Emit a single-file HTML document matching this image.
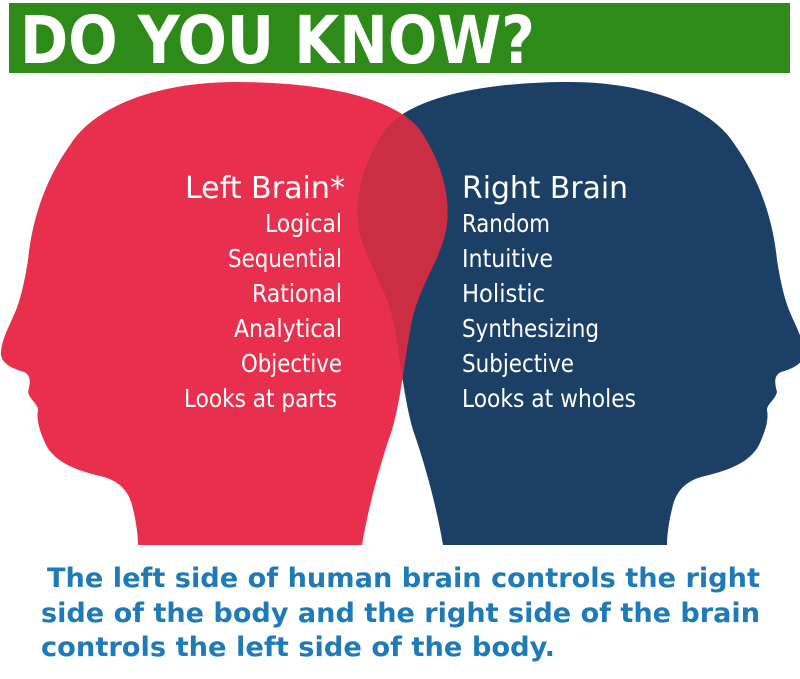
<!DOCTYPE html>
<html><head><meta charset="utf-8"><style>html,body{margin:0;padding:0;background:#fff}svg{display:block}</style></head>
<body>
<svg width="800" height="679" viewBox="0 0 800 679" xmlns="http://www.w3.org/2000/svg">
<defs>
<path id="rh" d="M236,82 C160,82 95,105 70,145 C45,180 32,220 28,260 C24,285 20,300 16,310 C10,325 2,338 1,352 C0,362 10,368 24,372 C32,376 30,384 28,392 C30,400 38,404 38,410 C36,420 40,432 46,445 C55,462 75,470 100,476 C118,480 128,490 132,505 C136,520 138,535 138,545 L362,545 C368,510 378,470 392,430 C402,395 404,360 412,320 C420,285 440,260 446,230 C452,195 440,160 420,130 C395,97 320,82 236,82 Z"/>
<clipPath id="rc"><use href="#rh"/></clipPath>
</defs>
<rect x="9" y="3" width="781" height="70" fill="#2e8b1a"/>
<text x="20" y="63" font-family="DejaVu Sans Condensed, DejaVu Sans, sans-serif" font-weight="bold" font-size="66" fill="#fff" textLength="515" lengthAdjust="spacingAndGlyphs">DO YOU KNOW?</text>
<g transform="translate(805,0) scale(-1,1)"><use href="#rh" fill="#1c3f66"/></g>
<use href="#rh" fill="#e8304e"/>
<g clip-path="url(#rc)"><g transform="translate(805,0) scale(-1,1)"><use href="#rh" fill="#cb2d45"/></g></g>
<g font-family="Liberation Sans Narrow, DejaVu Sans Condensed, Liberation Sans, sans-serif" fill="#fff">
<g text-anchor="end" font-size="25">
<text x="345" y="198" font-size="30" textLength="160" lengthAdjust="spacingAndGlyphs">Left Brain*</text>
<text x="342" y="232" textLength="77" lengthAdjust="spacingAndGlyphs">Logical</text>
<text x="342" y="267" textLength="114" lengthAdjust="spacingAndGlyphs">Sequential</text>
<text x="342" y="302" textLength="90" lengthAdjust="spacingAndGlyphs">Rational</text>
<text x="342" y="337" textLength="108" lengthAdjust="spacingAndGlyphs">Analytical</text>
<text x="342" y="372" textLength="101" lengthAdjust="spacingAndGlyphs">Objective</text>
<text x="337" y="407" textLength="153" lengthAdjust="spacingAndGlyphs">Looks at parts</text>
</g>
<g font-size="25">
<text x="462" y="198" font-size="30" textLength="166" lengthAdjust="spacingAndGlyphs">Right Brain</text>
<text x="462" y="232" textLength="88" lengthAdjust="spacingAndGlyphs">Random</text>
<text x="462" y="267" textLength="91" lengthAdjust="spacingAndGlyphs">Intuitive</text>
<text x="462" y="302" textLength="83" lengthAdjust="spacingAndGlyphs">Holistic</text>
<text x="462" y="337" textLength="137" lengthAdjust="spacingAndGlyphs">Synthesizing</text>
<text x="462" y="372" textLength="112" lengthAdjust="spacingAndGlyphs">Subjective</text>
<text x="462" y="407" textLength="174" lengthAdjust="spacingAndGlyphs">Looks at wholes</text>
</g>
</g>
<g font-family="DejaVu Sans Condensed, DejaVu Sans, sans-serif" font-weight="bold" font-size="27" fill="#1f7ab8">
<text x="47" y="587" textLength="713" lengthAdjust="spacingAndGlyphs">The left side of human brain controls the right</text>
<text x="41" y="622" textLength="719" lengthAdjust="spacingAndGlyphs">side of the body and the right side of the brain</text>
<text x="41" y="656" textLength="514" lengthAdjust="spacingAndGlyphs">controls the left side of the body.</text>
</g>
</svg>
</body></html>
